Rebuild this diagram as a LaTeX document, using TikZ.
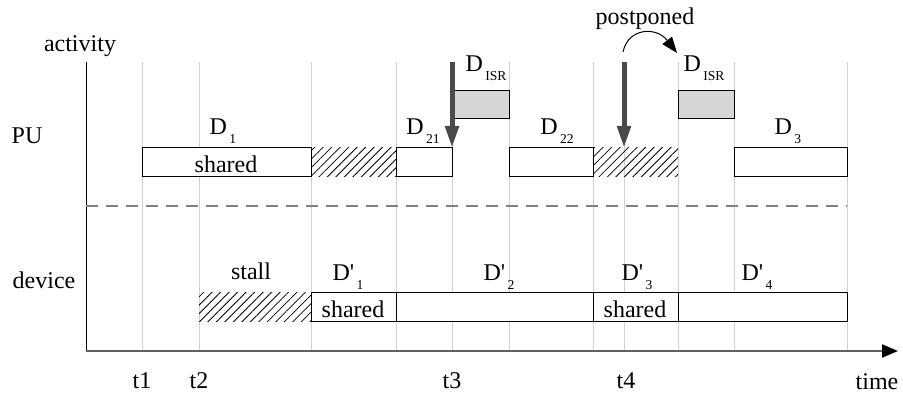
\documentclass[tikz,border=0pt]{standalone}
\usepackage{fontspec}
\setmainfont{Liberation Serif}
\usetikzlibrary{arrows.meta,patterns.meta}
\definecolor{gridgray}{HTML}{D0D0D0}
\definecolor{isrgray}{HTML}{D6D6D6}
\definecolor{irqgray}{HTML}{4A4A4A}
\definecolor{dashgray}{HTML}{808080}
\definecolor{axisgray}{HTML}{606060}
\newcommand{\lowsub}[1]{\hspace{1.2pt}\raisebox{-4.5pt}{\fontsize{6.8}{7.5}\selectfont #1}}
\newcommand{\prm}{\textquotesingle}
\begin{document}
\begin{tikzpicture}[x=0.5pt,y=-0.5pt,
  gridline/.style={draw=gridgray,line width=0.5pt},
  bar/.style={draw=black,fill=white,line width=0.5pt},
  hatch/.style={pattern={Lines[angle=45,distance=3pt,line width=0.4pt]}},
  isr/.style={draw=black,fill=isrgray,line width=0.5pt},
  lbl/.style={inner sep=0pt,anchor=base,font=\fontsize{12}{14}\selectfont},
  mid/.style={inner sep=0pt,anchor=base,font=\fontsize{12}{14}\selectfont},
  irq/.style={draw=irqgray,line width=2.5pt,-{Triangle[length=11pt,width=6.5pt]}},
]
\useasboundingbox (0,0) rectangle (903,394);

% grid lines
\foreach \x in {142,199,311,396,452,509,593,624,678,734,847}
  \draw[gridline] (\x,62) -- (\x,351);

% axes
\coordinate (ytop) at (86,62);
\coordinate (orig) at (86,351);
\coordinate (xend) at (898,351);
\draw[black,line width=0.5pt] (ytop) -- (orig);
\draw[axisgray,line width=1pt,-{Triangle[length=8pt,width=6.5pt,fill=black,color=black]}] (orig) -- (xend);

% separator
\coordinate (sepL) at (86,206);
\coordinate (sepR) at (847,206);
\draw[dashgray,line width=0.7pt,dash pattern=on 6pt off 4pt] (sepL) -- (sepR);

% PU row
\draw[bar] (142,148) rectangle (311,177);
\path[hatch] (311,148) rectangle (396,177);
\draw[bar] (396,148) rectangle (452,177);
\draw[bar] (509,148) rectangle (593,177);
\path[hatch] (593,148) rectangle (678,177);
\draw[bar] (734,148) rectangle (847,177);
\draw[isr] (454,91) rectangle (509,119);
\draw[isr] (678,91) rectangle (734,119);

% device row
\path[hatch] (199,293) rectangle (311,322);
\draw[bar] (311,293) rectangle (396,322);
\draw[bar] (396,293) rectangle (593,322);
\draw[bar] (593,293) rectangle (678,322);
\draw[bar] (678,293) rectangle (847,322);

% interrupt arrows
\coordinate (irqAs) at (452,62);
\coordinate (irqAe) at (452,148);
\coordinate (irqBs) at (624,62);
\coordinate (irqBe) at (624,148);
\draw[irq] (irqAs) -- (irqAe);
\draw[irq] (irqBs) -- (irqBe);

% postponed arrow
\coordinate (ppS) at (623,52);
\coordinate (ppE) at (677,53);
\draw[black,line width=0.5pt,-{Triangle[length=8pt,width=6pt]}] (ppS) .. controls (628,28) and (656,26) .. (ppE);

% labels
\node[lbl] (activity) at (80,52) {activity};
\node[lbl] (pu) at (27,144) {PU};
\node[lbl] (device) at (44,289) {device};
\node[lbl] (postponed) at (645,25) {postponed};

\node[lbl] (d1) at (223,135) {D\lowsub{1}};
\node[mid] (sh1) at (226,173) {shared};
\node[lbl] (d21) at (423,135) {D\lowsub{21}};
\node[lbl] (d22) at (557,135) {D\lowsub{22}};
\node[lbl] (d3) at (788,135) {D\lowsub{3}};
\node[lbl] (isr1) at (486,72) {D\lowsub{ISR}};
\node[lbl] (isr2) at (704,72) {D\lowsub{ISR}};

\node[lbl] (stall) at (251,280) {stall};
\node[lbl] (dp1) at (348,281) {D\prm\lowsub{1}};
\node[lbl] (dp2) at (499,281) {D\prm\lowsub{2}};
\node[lbl] (dp3) at (637,281) {D\prm\lowsub{3}};
\node[lbl] (dp4) at (757,281) {D\prm\lowsub{4}};
\node[mid] (sh2) at (353,318) {shared};
\node[mid] (sh3) at (635,318) {shared};

\node[lbl] (t1) at (142,388) {t1};
\node[lbl] (t2) at (199,388) {t2};
\node[lbl] (t3) at (452,388) {t3};
\node[lbl] (t4) at (626,388) {t4};
\node[lbl] (time) at (877,389) {time};
\end{tikzpicture}
\end{document}
